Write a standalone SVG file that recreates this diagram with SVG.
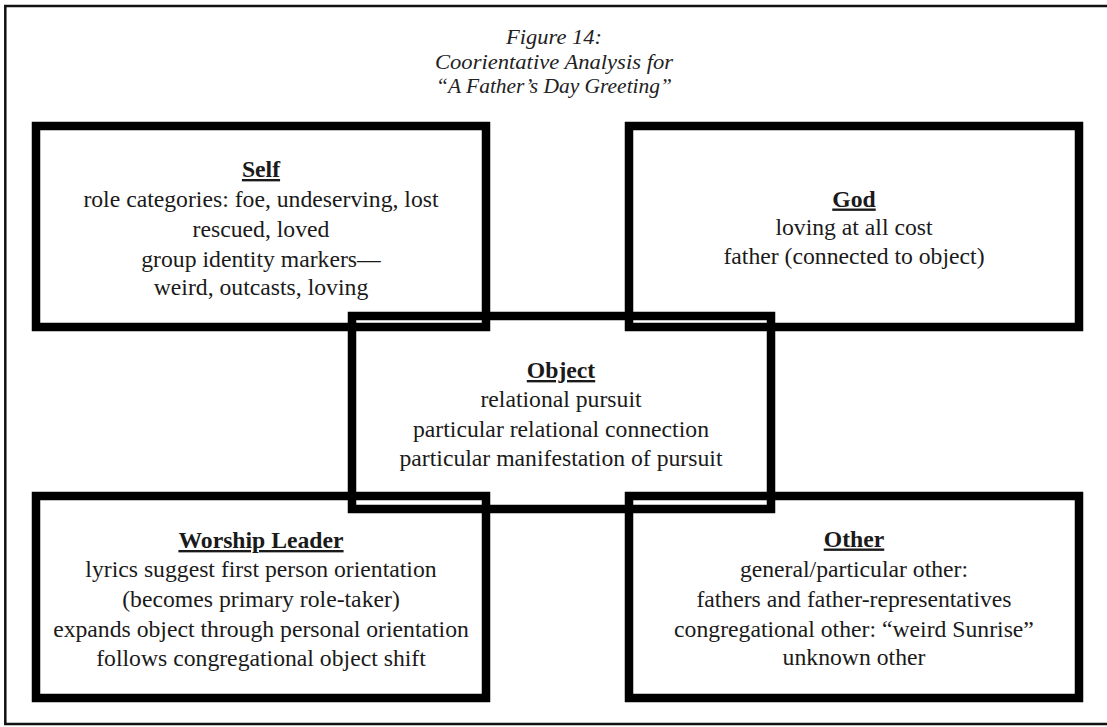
<svg xmlns="http://www.w3.org/2000/svg" width="1107" height="727" viewBox="0 0 1107 727">
  <style>
    .frame { fill: none; stroke: #111; stroke-width: 2.5; }
    .box { fill: none; stroke: #000; stroke-width: 8.5; }
    .title { font-family: "Liberation Serif", "Times New Roman", serif; font-style: italic; font-size: 20.5px; fill: #222; text-anchor: middle; }
    .head { font-family: "Liberation Serif", "Times New Roman", serif; font-weight: bold; font-size: 23.7px; fill: #1a1a1a; text-anchor: middle; text-decoration: underline; }
    .body { font-family: "Liberation Serif", "Times New Roman", serif; font-size: 23.7px; fill: #1a1a1a; text-anchor: middle; }
  </style>
  <rect width="1107" height="727" fill="#fff"/>
  <!-- page frame, open on the right -->
  <path class="frame" d="M1110,6 H5.3 V724 H1110"/>

  <g id="title">
    <text class="title" x="554" y="44" textLength="96" lengthAdjust="spacingAndGlyphs">Figure 14:</text>
    <text class="title" x="554" y="68.5" textLength="238" lengthAdjust="spacingAndGlyphs">Coorientative Analysis for</text>
    <text class="title" x="554" y="93" textLength="236" lengthAdjust="spacingAndGlyphs">“A Father’s Day Greeting”</text>
  </g>

  <g id="boxes">
    <g id="object">
      <rect class="box" x="352" y="316" width="419" height="193"/>
      <text class="head" x="561" y="378">Object</text>
      <text class="body" x="561" y="406.5">relational pursuit</text>
      <text class="body" x="561" y="436.5">particular relational connection</text>
      <text class="body" x="561" y="466">particular manifestation of pursuit</text>
    </g>
    <g id="self">
      <rect class="box" x="36" y="126" width="450" height="201"/>
      <text class="head" x="261" y="177">Self</text>
      <text class="body" x="261" y="206.5">role categories: foe, undeserving, lost</text>
      <text class="body" x="261" y="236.5">rescued, loved</text>
      <text class="body" x="261" y="266.5">group identity markers—</text>
      <text class="body" x="261" y="295">weird, outcasts, loving</text>
    </g>
    <g id="god">
      <rect class="box" x="629" y="126" width="450" height="201"/>
      <text class="head" x="854" y="206.5">God</text>
      <text class="body" x="854" y="235">loving at all cost</text>
      <text class="body" x="854" y="264">father (connected to object)</text>
    </g>
    <g id="worship-leader">
      <rect class="box" x="36" y="496" width="450" height="202"/>
      <text class="head" x="261" y="548">Worship Leader</text>
      <text class="body" x="261" y="576.5">lyrics suggest first person orientation</text>
      <text class="body" x="261" y="606.5">(becomes primary role-taker)</text>
      <text class="body" x="261" y="636.5">expands object through personal orientation</text>
      <text class="body" x="261" y="666">follows congregational object shift</text>
    </g>
    <g id="other">
      <rect class="box" x="629" y="496" width="450" height="202"/>
      <text class="head" x="854" y="546.5">Other</text>
      <text class="body" x="854" y="576.5">general/particular other:</text>
      <text class="body" x="854" y="606.5">fathers and father-representatives</text>
      <text class="body" x="854" y="636.5">congregational other: “weird Sunrise”</text>
      <text class="body" x="854" y="665">unknown other</text>
    </g>
  </g>

  <g id="connectors"></g>
</svg>
